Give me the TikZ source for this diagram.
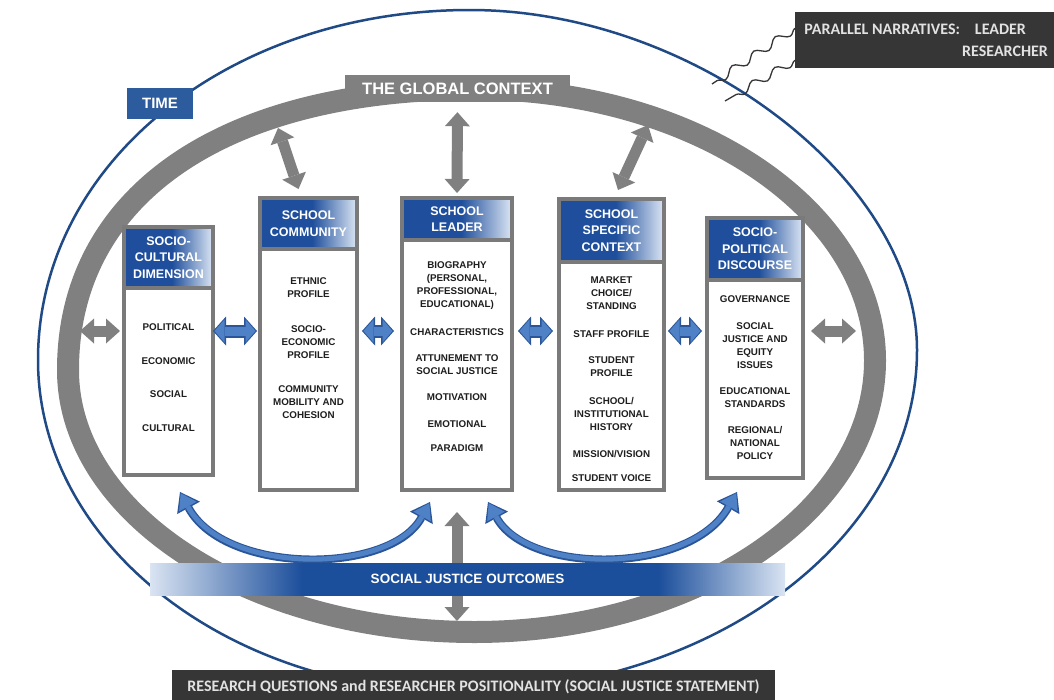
\documentclass[tikz,border=0pt]{standalone}
\usepackage{fontspec}
\setmainfont{Liberation Sans}
\newfontfamily\calfont{Carlito}
\usepackage{tikz}
\usetikzlibrary{arrows.meta,positioning,decorations.pathmorphing}
\definecolor{ringGrey}{HTML}{808080}
\definecolor{frameGrey}{HTML}{7A7A7A}
\definecolor{hdrBlue}{HTML}{1F4F9C}
\definecolor{hdrPale}{HTML}{DCE6F4}
\definecolor{timeBlue}{HTML}{2C5C9E}
\definecolor{lineBlue}{HTML}{1F4A86}
\definecolor{arrowBlue}{HTML}{4F81C7}
\definecolor{arrowDark}{HTML}{2A5598}
\definecolor{sjBlue}{HTML}{1B4E9B}
\definecolor{sjPale}{HTML}{DAE4F2}
\definecolor{darkBox}{HTML}{363636}
\definecolor{boxText}{HTML}{E2E2E2}
\definecolor{itemText}{HTML}{1E1E1E}
\pgfdeclarehorizontalshading{hdrfade}{100bp}{color(0bp)=(hdrBlue); color(25bp)=(hdrBlue);
  color(52bp)=(hdrBlue); color(75bp)=(hdrPale); color(100bp)=(hdrPale)}
\pgfdeclarehorizontalshading{sjfade}{100bp}{color(0bp)=(sjPale); color(25bp)=(sjPale);
  color(37bp)=(sjBlue); color(65bp)=(sjBlue); color(75bp)=(sjPale); color(100bp)=(sjPale)}

\begin{document}
\begin{tikzpicture}[
  x=1pt, y=-1pt,
  colhead/.style={
    draw=frameGrey, line width=4pt, outer sep=0pt, inner sep=0pt,
    shade, shading=hdrfade, text=white, align=center,
    font=\bfseries\fontsize{12.5}{16.5}\selectfont
  },
  colbody/.style={draw=frameGrey, line width=4pt, outer sep=0pt, inner sep=0pt, fill=white},
  items/.style={inner sep=0pt, align=center, text=itemText,
    font=\bfseries\fontsize{9.8}{13}\selectfont},
  darkbox/.style={fill=darkBox, text=boxText, inner sep=0pt,
    font=\calfont\bfseries\fontsize{16}{22}\selectfont},
  fatgrey/.style={draw=ringGrey, line width=11pt,
    {Triangle[width=25pt,length=14pt,line width=0pt]}-{Triangle[width=25pt,length=14pt,line width=0pt]}},
  fatblue/.style={draw=arrowBlue, line width=9pt, shorten <=1.5pt, shorten >=1.5pt,
    {Triangle[width=23pt,length=10pt,line width=0pt]}-{Triangle[width=23pt,length=10pt,line width=0pt]},
    preaction={draw=arrowDark, line width=13pt, shorten <=0pt, shorten >=0pt,
      {Triangle[width=29pt,length=13pt,line width=0pt]}-{Triangle[width=29pt,length=13pt,line width=0pt]}}},
  bluecurve/.style={draw=arrowBlue, line width=5pt, shorten <=1.5pt, shorten >=1.5pt,
    {Triangle[width=20pt,length=15pt,line width=0pt]}-{Triangle[width=20pt,length=15pt,line width=0pt]},
    preaction={draw=arrowDark, line width=8pt, shorten <=0pt, shorten >=0pt,
      {Triangle[width=26pt,length=18pt,line width=0pt]}-{Triangle[width=26pt,length=18pt,line width=0pt]}}},
  wavy/.style={draw=darkBox, line width=1.3pt,
    decorate, decoration={snake, segment length=26pt, amplitude=4pt}}
]
  \fill[white] (0,0) rectangle (1054,699);
  \useasboundingbox (0,0) rectangle (1054,699);

  \draw[lineBlue, line width=2.5pt] (38,360) .. controls (38,164) and (228,10) .. (470,10)
    .. controls (693.5,10) and (917,180) .. (917,350)
    .. controls (917,539) and (712,692) .. (460,692)
    .. controls (227,692) and (38,543) .. (38,360) -- cycle;
  \draw[ringGrey, line width=22pt] (68,370) .. controls (68,196) and (222,89) .. (474.5,89)
    .. controls (695.6,89) and (875,210.6) .. (875,360.5)
    .. controls (875,510.4) and (695.6,632) .. (474.5,632)
    .. controls (250.1,632) and (68,514.6) .. (68,370) -- cycle;

  \node[fill=ringGrey, text=white, inner sep=0pt, minimum width=225pt, minimum height=27pt,
    font=\bfseries\fontsize{16.5}{18}\selectfont] (ctx) at (457.5,88.5) {THE GLOBAL CONTEXT};
  \node[fill=timeBlue, text=white, inner sep=0pt, minimum width=66pt, minimum height=31pt,
    font=\bfseries\fontsize{15}{17}\selectfont] (time) at (160,103.5) {TIME};

  \node[darkbox, anchor=north west, minimum width=262pt, minimum height=56pt, align=right]
    (narr) at (795,12) {PARALLEL NARRATIVES:\hspace{15pt}LEADER\hspace*{22pt}\null\\RESEARCHER};
  \coordinate (waveA) at (712,84);
  \coordinate (waveB) at (725,101);
  \draw[wavy] ([yshift=12pt]narr.west) -- (waveA);
  \draw[wavy] ([yshift=-20pt]narr.west) -- (waveB);

  % columns
  \node[colhead, minimum width=89pt, minimum height=61pt] (cultHead) at (168.5,257.5)
    {SOCIO-\\CULTURAL\\DIMENSION};
  \node[colbody, below=0pt of cultHead, minimum width=89pt, minimum height=187pt] (cultBody) {};
  \node[items, below=35.5pt of cultHead] (cultList)
    {POLITICAL\\[20.7pt]ECONOMIC\\[20.7pt]SOCIAL\\[20.7pt]CULTURAL};

  \node[colhead, minimum width=97pt, minimum height=51pt] (commHead) at (308.5,223.5)
    {SCHOOL\\COMMUNITY};
  \node[colbody, below=0pt of commHead, minimum width=97pt, minimum height=241pt] (commBody) {};
  \node[items, below=28.5pt of commHead] (commList)
    {ETHNIC\\PROFILE\\[21.5pt]SOCIO-\\ECONOMIC\\PROFILE\\[21.5pt]COMMUNITY\\MOBILITY AND\\COHESION};

  \node[colhead, minimum width=110pt, minimum height=42pt] (leadHead) at (457,219)
    {SCHOOL\\LEADER};
  \node[colbody, below=0pt of leadHead, minimum width=110pt, minimum height=250pt] (leadBody) {};
  \node[items, below=21.5pt of leadHead] (leadList)
    {BIOGRAPHY\\(PERSONAL,\\PROFESSIONAL,\\EDUCATIONAL)\\[15pt]CHARACTERISTICS\\[13pt]%
     ATTUNEMENT TO\\SOCIAL JUSTICE\\[13pt]MOTIVATION\\[14pt]EMOTIONAL\\[11pt]PARADIGM};

  \node[colhead, minimum width=105pt, minimum height=63pt] (specHead) at (611.5,230.5)
    {SCHOOL\\SPECIFIC\\CONTEXT};
  \node[colbody, below=0pt of specHead, minimum width=105pt, minimum height=228pt] (specBody) {};
  \node[items, below=14.5pt of specHead] (specList)
    {MARKET\\CHOICE/\\STANDING\\[15pt]STAFF PROFILE\\[13pt]STUDENT\\PROFILE\\[15pt]%
     SCHOOL/\\INSTITUTIONAL\\HISTORY\\[14pt]MISSION/VISION\\[11pt]STUDENT VOICE};

  \node[colhead, minimum width=96pt, minimum height=62pt] (polHead) at (755,249)
    {SOCIO-\\POLITICAL\\DISCOURSE};
  \node[colbody, below=0pt of polHead, minimum width=96pt, minimum height=198pt] (polBody) {};
  \node[items, below=15.5pt of polHead] (polList)
    {GOVERNANCE\\[14pt]SOCIAL\\JUSTICE AND\\EQUITY\\ISSUES\\[13pt]EDUCATIONAL\\STANDARDS\\[13pt]%
     REGIONAL/\\NATIONAL\\POLICY};

  % links
  \coordinate (midrow) at (0,331);
  \coordinate (ringW) at (80,331);
  \coordinate (ringE) at (856,331);
  \coordinate (ctxA) at (278,128);
  \coordinate (ctxB) at (648,125);
  \coordinate (ringS) at (457,621);

  \draw[fatgrey, shorten >=4pt] (ringW) -- (cultBody.west |- midrow);
  \draw[fatblue] (cultBody.east |- midrow) -- ([xshift=-3pt]commBody.west |- midrow);
  \draw[fatblue] ([xshift=5pt]commBody.east |- midrow) -- ([xshift=-8pt]leadBody.west |- midrow);
  \draw[fatblue] ([xshift=6pt]leadBody.east |- midrow) -- ([xshift=-6pt]specBody.west |- midrow);
  \draw[fatblue] ([xshift=4pt]specBody.east |- midrow) -- ([xshift=-5pt]polBody.west |- midrow);
  \draw[fatgrey] ([xshift=8pt]polBody.east |- midrow) -- (ringE);

  \draw[fatgrey] (ctxA) -- ([xshift=-10pt,yshift=9pt]commHead.north);
  \draw[fatgrey, shorten <=10pt, shorten >=5pt] (ctx.south) -- (leadHead.north);
  \draw[fatgrey] (ctxB) -- ([xshift=6.5pt,yshift=9pt]specHead.north);
  \draw[fatgrey] ([yshift=-22pt]leadBody.south) -- (ringS);

  \draw[bluecurve] ([xshift=11.5pt,yshift=-17pt]cultBody.south)
    .. controls +(45,83) and +(-40,73) .. ([xshift=-27pt,yshift=-12pt]leadBody.south);
  \draw[bluecurve] ([xshift=31pt,yshift=-12pt]leadBody.south)
    .. controls +(40,73) and +(-47,83) .. ([xshift=-18pt,yshift=-14pt]polBody.south);

  \node[shade, shading=sjfade, text=white, inner sep=0pt, minimum width=635pt, minimum height=32pt,
    font=\bfseries\fontsize{13.5}{15}\selectfont] (outcomes) at (467.5,579) {SOCIAL JUSTICE OUTCOMES};

  \node[darkbox, minimum width=603pt, minimum height=34pt] (research) at (473.5,687)
    {RESEARCH QUESTIONS and RESEARCHER POSITIONALITY (SOCIAL JUSTICE STATEMENT)};
\end{tikzpicture}
\end{document}
